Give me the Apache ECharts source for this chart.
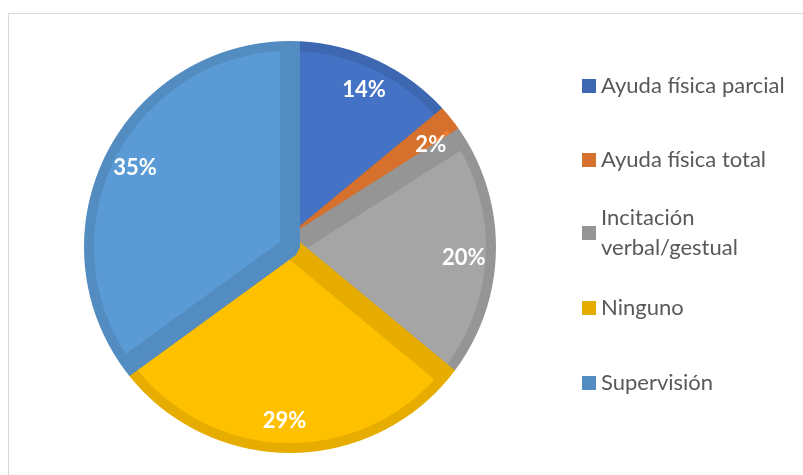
<!DOCTYPE html>
<html>
<head>
<meta charset="utf-8">
<script src="https://cdn.jsdelivr.net/npm/echarts@6/dist/echarts.min.js"></script>
<style>
html, body { margin: 0; padding: 0; background: #fff; }
#frame { position: absolute; left: 8px; top: 13px; width: 830px; height: 500px; border: 1px solid #d9d9d9; }
#chart { position: absolute; left: 0; top: 0; width: 803px; height: 475px; }
</style>
</head>
<body>
<div id="frame"></div>
<div id="chart"></div>
<script>
const categories = ['Ayuda física parcial', 'Ayuda física total', 'Incitación verbal/gestual', 'Ninguno', 'Supervisión']
const values = [14, 2, 20, 29, 35]
const legendLabels = ['Ayuda física parcial', 'Ayuda física total', 'Incitación\nverbal/gestual', 'Ninguno', 'Supervisión']
const fillColors = ['#4472C4', '#ED7D31', '#A5A5A5', '#FFC000', '#5B9BD5']
const edgeColors = ['#3D67B0', '#D5712C', '#959595', '#E6AD00', '#528CC0']

// legend rows, centre of each marker
const legendCenters = [86, 160, 233, 308, 383]

let myChart = echarts.init(document.getElementById('chart'))

let legends = categories.map(function (name, i) {
  let twoLines = legendLabels[i].indexOf('\n') >= 0
  return {
    orient: 'vertical',
    left: 582,
    top: legendCenters[i] - (twoLines ? 45 : 15),
    padding: 0,
    itemWidth: 14,
    itemHeight: 14,
    itemGap: 0,
    icon: 'rect',
    selectedMode: false,
    data: [{ name: name, itemStyle: { color: edgeColors[i], borderWidth: 0 } }],
    formatter: function () { return legendLabels[i] },
    textStyle: {
      color: '#595959',
      fontSize: 22,
      fontFamily: 'Lato',
      lineHeight: 30,
      padding: twoLines ? [30, 0, 0, 0] : 0
    }
  }
})

myChart.setOption({
  animation: false,
  legend: legends,
  // white ring trims the outer half of the slice borders
  graphic: [{
    type: 'ring',
    silent: true,
    z: 100,
    shape: { cx: 290, cy: 247, r: 224, r0: 206 },
    style: { fill: '#fff' }
  }],
  series: [
    {
      name: 'slices',
      type: 'pie',
      center: [290, 247],
      radius: [0, 206],
      startAngle: 90,
      clockwise: true,
      silent: true,
      emphasis: { disabled: true },
      label: { show: false },
      labelLine: { show: false },
      itemStyle: { borderWidth: 20, borderJoin: 'bevel' },
      data: categories.map(function (name, i) {
        return { name: name, value: values[i], itemStyle: { color: fillColors[i], borderColor: edgeColors[i] } }
      })
    },
    {
      name: 'labels',
      type: 'pie',
      center: [290, 247],
      radius: [138, 204],
      startAngle: 90,
      clockwise: true,
      silent: true,
      z: 5,
      emphasis: { disabled: true },
      itemStyle: { color: 'transparent', borderWidth: 0 },
      label: {
        show: true,
        position: 'inside',
        formatter: '{c}%',
        color: '#fff',
        fontSize: 22,
        fontWeight: 'bold',
        fontFamily: 'Lato'
      },
      labelLine: { show: false },
      data: categories.map(function (name, i) {
        return { name: name, value: values[i] }
      })
    }
  ]
})
</script>
</body>
</html>
